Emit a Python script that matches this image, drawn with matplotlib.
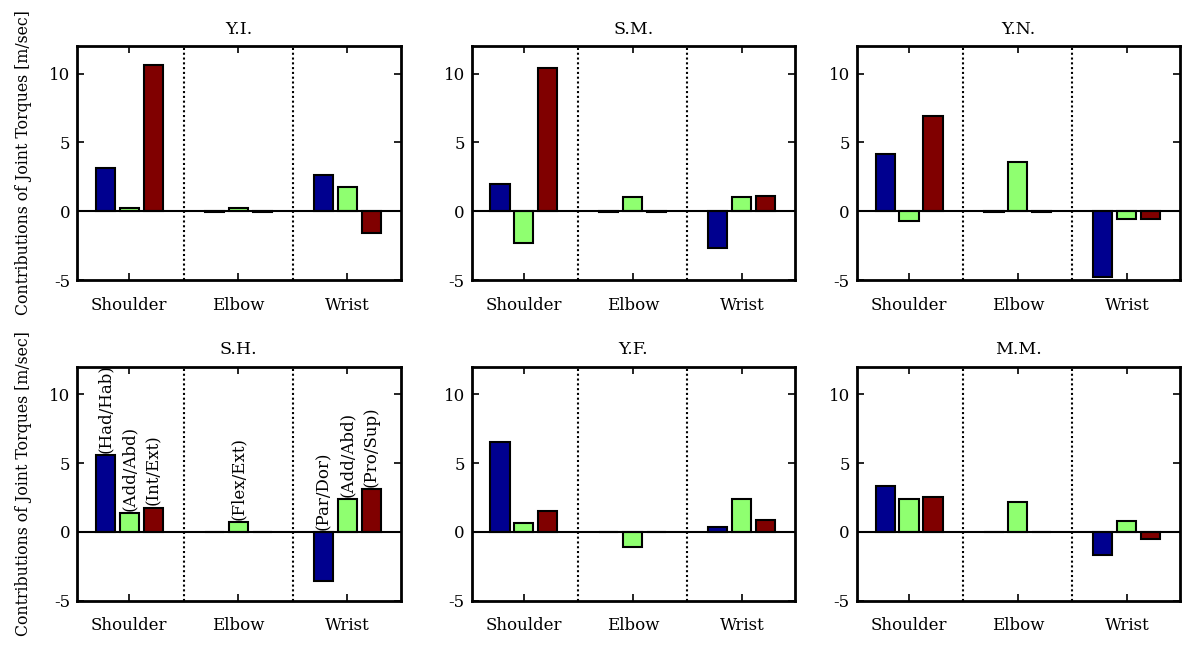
import numpy as np
import matplotlib.pyplot as plt

# subjects and joint groups
subjects = ['Y.I.', 'S.M.', 'Y.N.', 'S.H.', 'Y.F.', 'M.M.']
joints = ['Shoulder', 'Elbow', 'Wrist']

# values per subject: [shoulder x3, elbow x3, wrist x3]
# (blue, green, red) for each joint
yi = [3.17, 0.20, 10.60, -0.03, 0.20, -0.03, 2.66, 1.76, -1.60]
sm = [1.95, -2.34, 10.44, -0.03, 1.02, -0.03, -2.68, 1.02, 1.12]
yn = [4.15, -0.73, 6.95, -0.03, 3.59, -0.03, -4.78, -0.54, -0.56]
sh = [5.58, 1.36, 1.77, -0.03, 0.73, -0.03, -3.59, 2.40, 3.11]
yf = [6.50, 0.63, 1.55, -0.03, -1.12, -0.03, 0.32, 2.38, 0.83]
mm = [3.37, 2.40, 2.52, -0.03, 2.18, -0.03, -1.65, 0.80, -0.49]
all_values = [yi, sm, yn, sh, yf, mm]

# rotated labels drawn in the S.H. panel
dof_labels = ['(Had/Hab)', '(Add/Abd)', '(Int/Ext)',
              None, '(Flex/Ext)', None,
              '(Par/Dor)', '(Add/Abd)', '(Pro/Sup)']

colors = ['#00008F', '#8FFF70', '#800000']
offsets = [-0.22, 0.0, 0.22]
bar_w = 0.175

plt.rcParams['font.family'] = 'DejaVu Serif'

fig = plt.figure(figsize=(11.83, 6.48), dpi=100)

lefts = [0.0651, 0.3987, 0.7242]
bottoms = [0.5679, 0.073]
w, h = 0.2735, 0.361

for k, (name, vals) in enumerate(zip(subjects, all_values)):
    row, col = divmod(k, 3)
    ax = fig.add_axes([lefts[col], bottoms[row], w, h])

    for j in range(3):
        for b in range(3):
            idx = j * 3 + b
            x = j + 1 + offsets[b]
            ax.bar(x, vals[idx], width=bar_w, color=colors[b],
                   edgecolor='black', linewidth=1.5, zorder=2)
            if name == 'S.H.' and dof_labels[idx] is not None:
                ax.text(x, max(vals[idx], 0) + 0.15, dof_labels[idx],
                        rotation=90, ha='center', va='bottom', fontsize=12)

    ax.axhline(0, color='black', linewidth=1.5, zorder=3)
    for sep in [1.5, 2.5]:
        ax.axvline(sep, color='black', linestyle=(0, (1, 1.3)),
                   linewidth=1.5, zorder=1)

    ax.set_xlim(0.52, 3.49)
    ax.set_ylim(-5, 12)
    ax.set_xticks([1, 2, 3])
    ax.set_xticklabels(joints, fontsize=12)
    ax.set_yticks([-5, 0, 5, 10])
    ax.set_yticklabels(['-5', '0', '5', '10'], fontsize=12)
    ax.tick_params(direction='in', length=5, width=1.2,
                   top=True, right=True)
    ax.tick_params(axis='x', pad=12)
    ax.tick_params(axis='y', pad=5)
    for sp in ax.spines.values():
        sp.set_linewidth(2)
    ax.set_title(name, fontsize=12.5, pad=9)

    if col == 0:
        ax.set_ylabel('Contributions of Joint Torques [m/sec]', fontsize=11.3,
                      labelpad=12)

fig.savefig('out.png', dpi=100)
